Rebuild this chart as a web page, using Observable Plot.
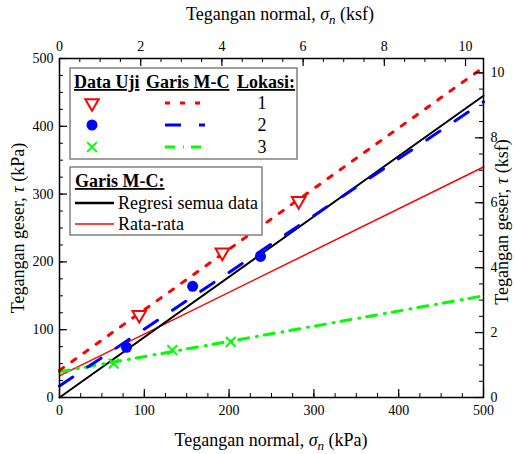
<!DOCTYPE html>
<html><head><meta charset="utf-8">
<script src="https://cdn.jsdelivr.net/npm/d3@7"></script>
<script src="https://cdn.jsdelivr.net/npm/@observablehq/plot@0.6"></script>
<style>body{margin:0;background:#fff} #chart{width:515px;height:454px}</style>
</head><body><div id="chart"></div>
<script>
// ---- data (kPa) ----
const KPA_PER_KSF = 47.88;
const loc1X = [94, 192, 282], loc1Y = [122, 214, 290];
const loc2X = [79, 157, 237], loc2Y = [74, 164, 208];
const loc3X = [64, 133, 202], loc3Y = [50, 70, 82];
const lineX = [0, 500];
const loc1Line = [40, 487];
const loc2Line = [17, 436];
const loc3Line = [38, 150];
const regLine = [0, 445];
const avgLine = [32, 340];
const kpaTicks = [0, 100, 200, 300, 400, 500];
const kpaMinor = d3.range(0, 501, 25);
const ksfTicks = [0, 2, 4, 6, 8, 10];
const ksfMinor = d3.range(0, 10.45, 0.5);

const W = 515, H = 454, mL = 59, mR = 32, mT = 58, mB = 57;
const FW = W - mL - mR, FH = H - mT - mB;
const pts = (xs, ys) => xs.map((x, i) => ({x, y: ys[i]}));
const seg = ys => lineX.map((x, i) => ({x, y: ys[i]}));
const toK = k => k * KPA_PER_KSF;
const dashGreen = "10,8,1,7";

const svg = Plot.plot({
  width: W, height: H, marginLeft: mL, marginRight: mR, marginTop: mT, marginBottom: mB,
  style: {fontFamily: "'Liberation Serif', 'Times New Roman', serif", fontSize: "14px", background: "white", color: "black"},
  x: {domain: [0, 500]}, y: {domain: [0, 500]},
  marks: [
    Plot.line(seg(avgLine), {x: "x", y: "y", stroke: "#ff0000", strokeWidth: 1.5}),
    Plot.line(seg(regLine), {x: "x", y: "y", stroke: "black", strokeWidth: 2}),
    Plot.line(seg(loc3Line), {x: "x", y: "y", stroke: "#00ff00", strokeWidth: 3, strokeDasharray: dashGreen}),
    Plot.line(seg(loc2Line), {x: "x", y: "y", stroke: "#0000ff", strokeWidth: 3, strokeDasharray: "16,18"}),
    Plot.line(seg(loc1Line), {x: "x", y: "y", stroke: "#ff0000", strokeWidth: 3, strokeDasharray: "5,10"}),
    Plot.dot(pts(loc1X, loc1Y), {x: "x", y: "y", symbol: "triangle", rotate: 180, r: 5, stroke: "#ff0000", strokeWidth: 2, fill: "white"}),
    Plot.dot(pts(loc2X, loc2Y), {x: "x", y: "y", symbol: "circle", r: 5.5, fill: "#0000ff", stroke: "none"}),
    Plot.dot(pts(loc3X, loc3Y), {x: "x", y: "y", symbol: "times", r: 4.5, stroke: "#00ff00", strokeWidth: 2}),
    // inward ticks
    Plot.tickX(kpaMinor, {x: d => d, insetTop: FH - 4, stroke: "black"}),
    Plot.tickX(kpaTicks, {x: d => d, insetTop: FH - 8, stroke: "black", strokeWidth: 1.2}),
    Plot.tickX(ksfMinor.map(toK), {x: d => d, insetBottom: FH - 4, stroke: "black"}),
    Plot.tickX(ksfTicks.map(toK), {x: d => d, insetBottom: FH - 8, stroke: "black", strokeWidth: 1.2}),
    Plot.tickY(kpaMinor, {y: d => d, insetRight: FW - 4, stroke: "black"}),
    Plot.tickY(kpaTicks, {y: d => d, insetRight: FW - 8, stroke: "black", strokeWidth: 1.2}),
    Plot.tickY(ksfMinor.map(toK), {y: d => d, insetLeft: FW - 4, stroke: "black"}),
    Plot.tickY(ksfTicks.map(toK), {y: d => d, insetLeft: FW - 8, stroke: "black", strokeWidth: 1.2}),
    Plot.axisX(kpaTicks, {anchor: "bottom", tickSize: 0, tickPadding: 8, label: null}),
    Plot.axisX(ksfTicks.map(toK), {anchor: "top", tickSize: 0, tickPadding: 8, label: null, tickFormat: d => Math.round(d / KPA_PER_KSF)}),
    Plot.axisY(kpaTicks, {anchor: "left", tickSize: 0, tickPadding: 6, label: null}),
    Plot.axisY(ksfTicks.map(toK), {anchor: "right", tickSize: 0, tickPadding: 7, label: null, tickFormat: d => Math.round(d / KPA_PER_KSF)}),
    Plot.frame({stroke: "black", strokeWidth: 1.5})
  ]
});
document.getElementById("chart").appendChild(svg);

// ---- axis titles and legends ----
const s = d3.select(svg);
const font = "'Liberation Serif', 'Times New Roman', serif";
function title(x, y, rot) {
  return s.append("text").attr("transform", `translate(${x},${y}) rotate(${rot})`)
    .attr("text-anchor", "middle").attr("font-family", font).attr("font-size", 18).attr("fill", "black");
}
let t = title(271, 446, 0);
t.append("tspan").text("Tegangan normal, ");
t.append("tspan").attr("font-style", "italic").text("σ");
t.append("tspan").attr("font-style", "italic").attr("font-size", 13).attr("dy", 4).text("n");
t.append("tspan").attr("dy", -4).text(" (kPa)");
t = title(280, 20, 0);
t.append("tspan").text("Tegangan normal, ");
t.append("tspan").attr("font-style", "italic").text("σ");
t.append("tspan").attr("font-style", "italic").attr("font-size", 13).attr("dy", 4).text("n");
t.append("tspan").attr("dy", -4).text(" (ksf)");
t = title(24, 228, -90);
t.append("tspan").text("Tegangan geser, ");
t.append("tspan").attr("font-style", "italic").text("τ");
t.append("tspan").text(" (kPa)");
t = title(508, 222, -90);
t.append("tspan").text("Tegangan geser, ");
t.append("tspan").attr("font-style", "italic").text("τ");
t.append("tspan").text(" (ksf)");

const g = s.append("g").attr("font-family", font).attr("fill", "black").attr("text-anchor", "start");
// legend 1
g.append("rect").attr("x", 70).attr("y", 68).attr("width", 227).attr("height", 91)
  .attr("fill", "white").attr("stroke", "#808080").attr("stroke-width", 1.5);
const hdr = [["Data Uji", 74], ["Garis M-C", 146], ["Lokasi:", 237]];
hdr.forEach(([txt, x]) => g.append("text").attr("x", x).attr("y", 88).attr("font-size", 18)
  .attr("text-anchor", "start").attr("font-weight", "bold").attr("text-decoration", "underline").text(txt));
const rows = [103, 125, 147];
g.append("path").attr("d", d3.symbol(d3.symbolTriangle, 78)()).attr("transform", `translate(92,${rows[0]}) rotate(180)`)
  .attr("fill", "white").attr("stroke", "#ff0000").attr("stroke-width", 2);
g.append("circle").attr("cx", 92).attr("cy", rows[1]).attr("r", 5.5).attr("fill", "#0000ff");
g.append("path").attr("d", d3.symbol(d3.symbolTimes, 64)()).attr("transform", `translate(92,${rows[2]})`)
  .attr("fill", "none").attr("stroke", "#00ff00").attr("stroke-width", 2);
const dashes = [["#ff0000", "5,10"], ["#0000ff", "16,18"], ["#00ff00", dashGreen]];
dashes.forEach(([c, d], i) => g.append("line").attr("x1", 165).attr("x2", 205).attr("y1", rows[i]).attr("y2", rows[i])
  .attr("stroke", c).attr("stroke-width", 3).attr("stroke-dasharray", d));
["1", "2", "3"].forEach((n, i) => g.append("text").attr("x", 262).attr("y", rows[i] + 6).attr("font-size", 18)
  .attr("text-anchor", "middle").text(n));
// legend 2
g.append("rect").attr("x", 70).attr("y", 167).attr("width", 192).attr("height", 68)
  .attr("fill", "white").attr("stroke", "#808080").attr("stroke-width", 1.5);
g.append("text").attr("x", 75).attr("y", 187).attr("font-size", 18).attr("font-weight", "bold")
  .attr("text-anchor", "start").attr("text-decoration", "underline").text("Garis M-C:");
g.append("line").attr("x1", 75).attr("x2", 114).attr("y1", 203).attr("y2", 203).attr("stroke", "black").attr("stroke-width", 2.5);
g.append("text").attr("x", 118).attr("y", 209).attr("font-size", 18).attr("text-anchor", "start").text("Regresi semua data");
g.append("line").attr("x1", 75).attr("x2", 114).attr("y1", 224).attr("y2", 224).attr("stroke", "#ff0000").attr("stroke-width", 1.5);
g.append("text").attr("x", 118).attr("y", 230).attr("font-size", 18).attr("text-anchor", "start").text("Rata-rata");
</script></body></html>
